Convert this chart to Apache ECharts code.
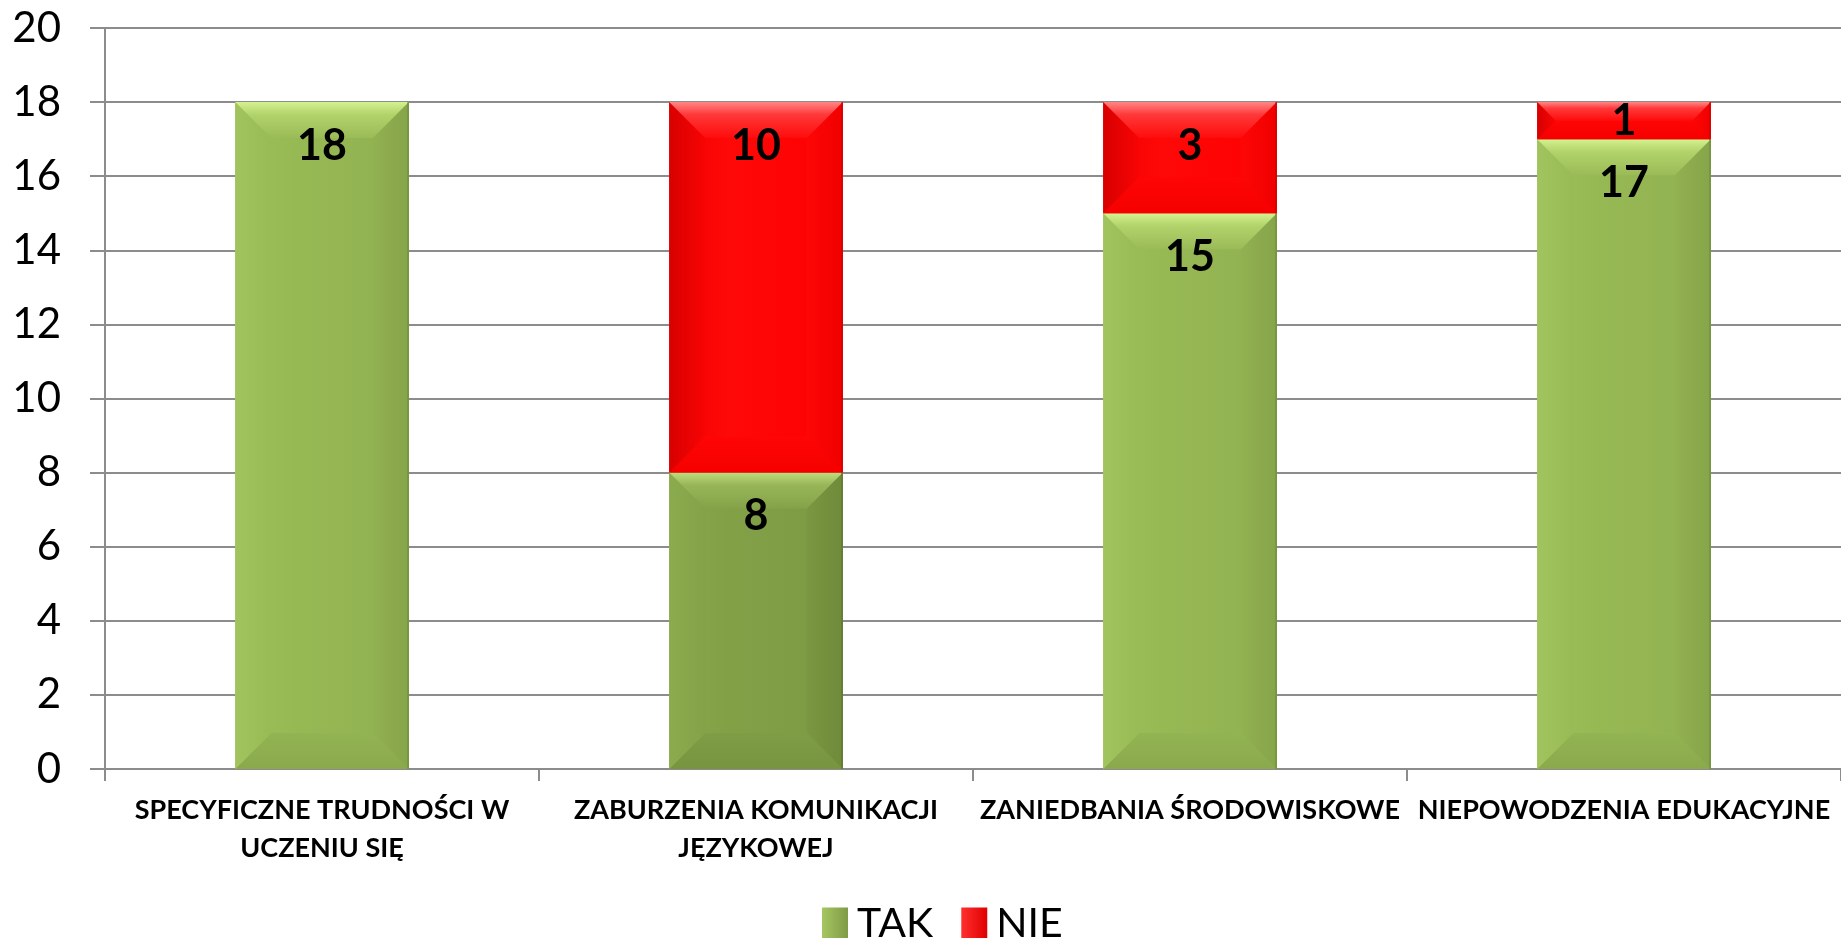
<!DOCTYPE html>
<html>
<head>
<meta charset="utf-8">
<script src="https://cdn.jsdelivr.net/npm/echarts@6/dist/echarts.min.js"></script>
<style>
  html, body { margin: 0; padding: 0; background: #ffffff; }
  #chart { width: 1841px; height: 938px; }
</style>
</head>
<body>
<div id="chart"></div>
<script>
// Categories and answer counts
const categories = [
  'SPECYFICZNE TRUDNOŚCI W\nUCZENIU SIĘ',
  'ZABURZENIA KOMUNIKACJI\nJĘZYKOWEJ',
  'ZANIEDBANIA ŚRODOWISKOWE',
  'NIEPOWODZENIA EDUKACYJNE'
];
const seriesNames = ['TAK', 'NIE'];
const takValues = [18, 8, 15, 17];
const nieValues = [null, 10, 3, 1];
const yMin = 0;
const yMax = 20;
const yStep = 2;

// Soft bevelled fill palettes (outer edge -> inner face)
const greenPal = {
  face: ['#9dc05a', '#97b954', '#90b050'],
  top: ['#d4f28f', '#b2d26b', '#9abb57'],
  bottom: ['#8aa94d', '#93b452'],
  left: ['#a2c45e', '#99bb56'],
  right: ['#92b151', '#86a449'],
  edge: '#6f8c3c'
};
const darkGreenPal = {
  face: ['#88a84c', '#82a147', '#7b9943'],
  top: ['#bddc7b', '#98b658', '#84a349'],
  bottom: ['#779440', '#7f9d45'],
  left: ['#8bab4e', '#84a349'],
  right: ['#7b9741', '#6f8a3a'],
  edge: '#5d7530'
};
const redPal = {
  face: ['#f20000', '#ff0808', '#fd0000'],
  top: ['#ff8585', '#ff3838', '#ff0c0c'],
  bottom: ['#f50000', '#ff0505'],
  left: ['#d80000', '#f80404'],
  right: ['#fe0606', '#f00000'],
  edge: '#d00000'
};

function grad3(x, y, x2, y2, c) {
  return new echarts.graphic.LinearGradient(x, y, x2, y2, [
    { offset: 0, color: c[0] }, { offset: 0.35, color: c[1] }, { offset: 1, color: c[2] }
  ]);
}
function grad(x, y, x2, y2, c) {
  return new echarts.graphic.LinearGradient(x, y, x2, y2, [
    { offset: 0, color: c[0] }, { offset: 1, color: c[1] }
  ]);
}

function bevelBar(palFor) {
  return function (params, api) {
    const idx = api.value(0);
    const lo = api.value(1);
    const hi = api.value(2);
    const val = api.value(3);
    const pLo = api.coord([idx, lo]);
    const pHi = api.coord([idx, hi]);
    const bw = api.size([1, 0])[0] * 0.4;
    const cx = pLo[0];
    const x0 = cx - bw / 2, x1 = cx + bw / 2;
    const y0 = pHi[1], y1 = pLo[1];
    const h = y1 - y0;
    const b = Math.min(36, h / 2, bw / 2);
    const pal = palFor(idx);
    return {
      type: 'group',
      children: [
        { type: 'rect', shape: { x: x0, y: y0, width: bw, height: h }, style: { fill: grad3(0, 0, 1, 0, pal.face) } },
        { type: 'polygon', shape: { points: [[x0, y1], [x1, y1], [x1 - b, y1 - b], [x0 + b, y1 - b]] },
          style: { fill: grad(0, 1, 0, 0, pal.bottom) } },
        { type: 'polygon', shape: { points: [[x0, y0], [x0 + b, y0 + b], [x0 + b, y1 - b], [x0, y1]] },
          style: { fill: grad(0, 0, 1, 0, pal.left) } },
        { type: 'polygon', shape: { points: [[x1, y0], [x1 - b, y0 + b], [x1 - b, y1 - b], [x1, y1]] },
          style: { fill: grad(0, 0, 1, 0, pal.right) } },
        { type: 'polygon', shape: { points: [[x0, y0], [x1, y0], [x1 - b, y0 + b], [x0 + b, y0 + b]] },
          style: { fill: grad3(0, 0, 0, 1, pal.top) } },
        { type: 'line', shape: { x1: x1 - 0.75, y1: y0, x2: x1 - 0.75, y2: y1 },
          style: { stroke: pal.edge, lineWidth: 1.5, opacity: 0.8 } },
        { type: 'text', x: cx, y: y0 + Math.min(44, h / 2),
          style: { text: String(val), font: 'bold 43px Lato', fill: '#000000', align: 'center', verticalAlign: 'middle' } }
      ]
    };
  };
}

const takData = categories.map((c, i) => [i, 0, takValues[i], takValues[i]]);
const nieData = [];
categories.forEach((c, i) => {
  if (nieValues[i] != null) nieData.push([i, takValues[i], takValues[i] + nieValues[i], nieValues[i]]);
});

const chart = echarts.init(document.getElementById('chart'), null, { renderer: 'canvas' });
chart.setOption({
  backgroundColor: '#ffffff',
  animation: false,
  grid: { left: 105, top: 28, width: 1741, bottom: 169, containLabel: false },
  legend: {
    left: 817,
    top: 898,
    itemWidth: 26,
    itemHeight: 32,
    itemGap: 28,
    textStyle: { fontFamily: 'Lato', fontSize: 41, color: '#000000', padding: [0, 0, 0, 4] },
    data: [
      { name: seriesNames[0], icon: 'rect', itemStyle: { color: grad(0, 0, 1, 0, ['#a6c662', '#7f9b45']) } },
      { name: seriesNames[1], icon: 'rect', itemStyle: { color: grad(0, 0, 1, 0, ['#ff3030', '#e00000']) } }
    ]
  },
  xAxis: {
    type: 'category',
    data: categories,
    boundaryGap: true,
    axisLine: { lineStyle: { color: '#8c8c8c', width: 2 } },
    axisTick: { show: true, length: 12, interval: 0, lineStyle: { color: '#8c8c8c', width: 2 } },
    axisLabel: {
      interval: 0,
      margin: 22,
      fontFamily: 'Lato',
      fontWeight: 'bold',
      fontSize: 27,
      lineHeight: 38,
      color: '#000000'
    }
  },
  yAxis: {
    type: 'value',
    min: yMin,
    max: yMax,
    interval: yStep,
    axisLine: { show: true, lineStyle: { color: '#8c8c8c', width: 2 } },
    axisTick: { show: true, length: 15, lineStyle: { color: '#8c8c8c', width: 2 } },
    splitLine: { lineStyle: { color: '#8c8c8c', width: 2 } },
    axisLabel: { margin: 44, fontFamily: 'Lato', fontSize: 42, color: '#000000' }
  },
  series: [
    {
      name: seriesNames[0],
      type: 'custom',
      itemStyle: { color: '#9bbb59' },
      encode: { x: 0, y: [1, 2] },
      renderItem: bevelBar(i => (i === 1 ? darkGreenPal : greenPal)),
      data: takData,
      z: 3
    },
    {
      name: seriesNames[1],
      type: 'custom',
      itemStyle: { color: '#ff0000' },
      encode: { x: 0, y: [1, 2] },
      renderItem: bevelBar(() => redPal),
      data: nieData,
      z: 3
    }
  ]
});
</script>
</body>
</html>
